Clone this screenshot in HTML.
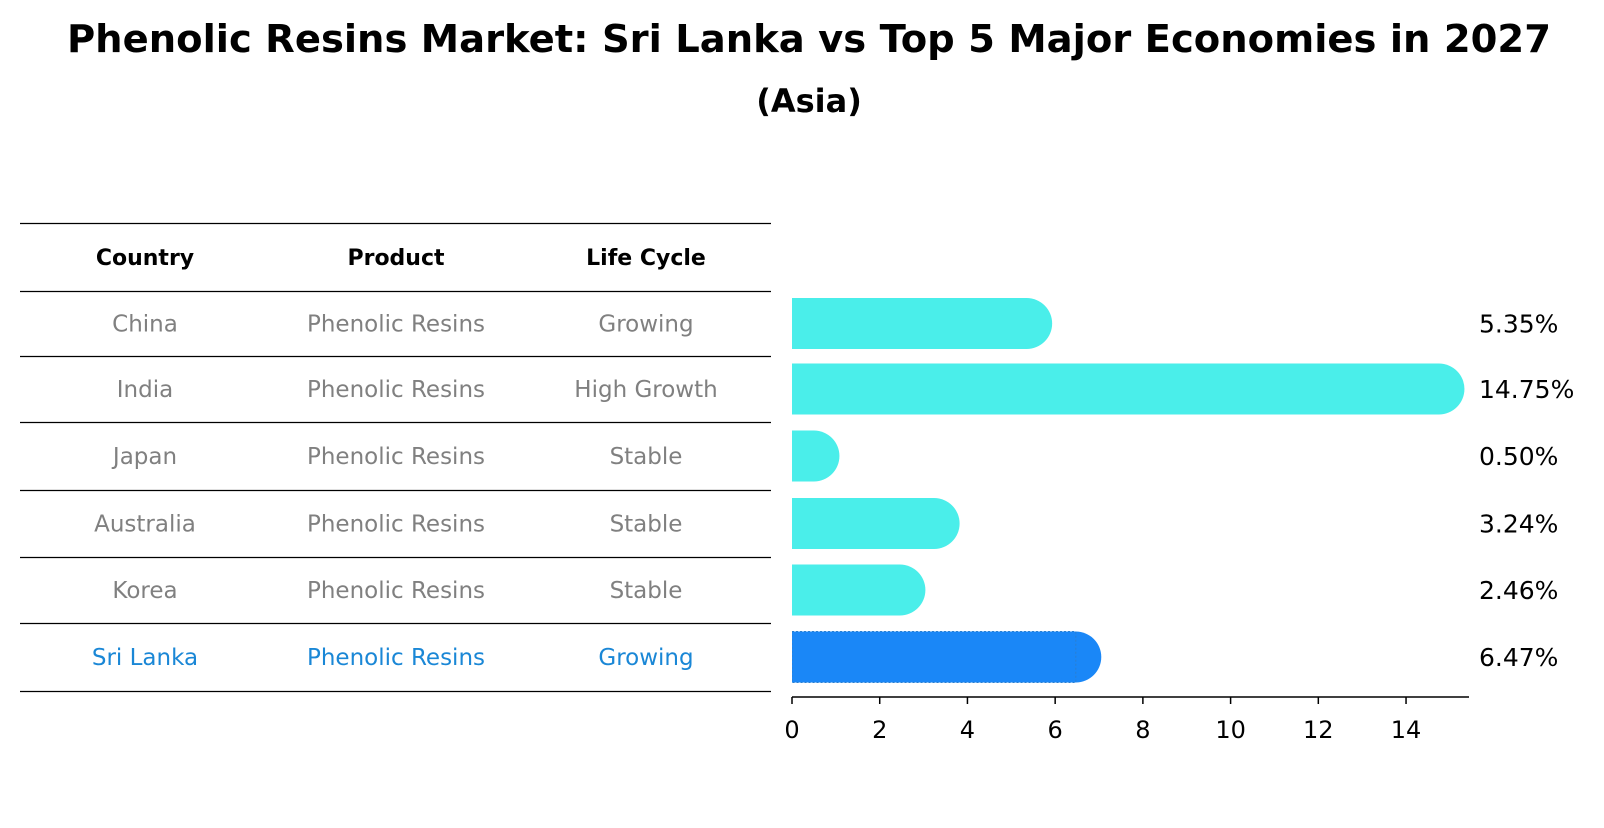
<!DOCTYPE html>
<html><head><meta charset="utf-8"><style>
body{margin:0;background:#fff;font-family:"Liberation Sans","DejaVu Sans",sans-serif;}
svg text{font-family:"DejaVu Sans","Liberation Sans",sans-serif;}
</style></head><body>
<svg id="chart" width="1604" height="823" xmlns="http://www.w3.org/2000/svg">
<defs><clipPath id="clipR"><rect x="792" y="0" width="800" height="823"/></clipPath></defs>
<text x="809" y="52" text-anchor="middle" font-size="38.5" font-weight="bold">Phenolic Resins Market: Sri Lanka vs Top 5 Major Economies in 2027</text>
<text x="809" y="112" text-anchor="middle" font-size="32" font-weight="bold">(Asia)</text>
<g id="table"></g>
<g id="bars"></g>
</svg>
<script>
const countries=["China","India","Japan","Australia","Korea","Sri Lanka"];
const products=["Phenolic Resins","Phenolic Resins","Phenolic Resins","Phenolic Resins","Phenolic Resins","Phenolic Resins"];
const lifeCycles=["Growing","High Growth","Stable","Stable","Stable","Growing"];
const values=[5.35,14.75,0.50,3.24,2.46,6.47];
const ticks=[0,2,4,6,8,10,12,14];
const NS="http://www.w3.org/2000/svg";
function mk(t,a,p){const e=document.createElementNS(NS,t);for(const k in a)e.setAttribute(k,a[k]);p.appendChild(e);return e;}
const tbl=document.getElementById('table'),bars=document.getElementById('bars');
const lines=[223,291,356,422,490,557,623,691];
const rowY=i=>(lines[i+1]+lines[i+2])/2;
lines.forEach(y=>{const l=mk('line',{x1:20,x2:771,y1:y+0.5,y2:y+0.5,stroke:'#000','stroke-width':1.2},tbl);

});
const cols=[145,396,646];
["Country","Product","Life Cycle"].forEach((h,j)=>{const t=mk('text',{x:cols[j],y:265,'text-anchor':'middle','font-size':22,'font-weight':'bold'},tbl);t.textContent=h;

});
const x0=792,sx=43.86,bh=51;
const X=v=>x0+v*sx;
countries.forEach((c,i)=>{
 const y=rowY(i),last=c==="Sri Lanka",col=last?'#1a87d6':'#808080';
 [c,products[i],lifeCycles[i]].forEach((s,j)=>{const t=mk('text',{x:cols[j],y:y+8,'text-anchor':'middle','font-size':23,fill:col},tbl);t.textContent=s;
 
 });
 const fill=last?'#1a87f7':'#4aeeea',xe=X(values[i]);
 const g=mk('g',{'clip-path':'url(#clipR)'},bars);
 
 
 mk('rect',{x:x0,y:y-bh/2,width:xe-x0,height:bh,fill:fill},g);
 mk('circle',{cx:xe,cy:y,r:bh/2,fill:fill},g);
 if(last)mk('rect',{x:x0,y:y-bh/2,width:xe-x0,height:bh,fill:'none',stroke:'#2a7fd0','stroke-dasharray':'2,2','stroke-width':1},g);
 const v=mk('text',{x:1479,y:y+9,'font-size':25},bars);v.textContent=values[i].toFixed(2)+'%';
 
 
});
const ax=mk('line',{x1:x0,x2:1469,y1:697,y2:697,stroke:'#000','stroke-width':1.5},bars);


ticks.forEach(t=>{mk('line',{x1:X(t),x2:X(t),y1:697,y2:704,stroke:'#000','stroke-width':1.5},bars);
 const l=mk('text',{x:X(t),y:738,'text-anchor':'middle','font-size':24},bars);l.textContent=t;
 
 });
</script>
</body></html>
